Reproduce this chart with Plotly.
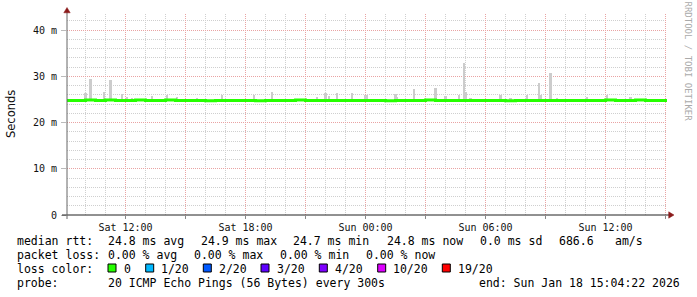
import plotly.graph_objects as go

# ---------------- data ----------------
x_start = "2026-01-17 09:04:22"
x_end = "2026-01-18 15:04:22"

# median RTT (ms), 30-minute steps
median_times = [
    "2026-01-17 09:00", "2026-01-17 09:30", "2026-01-17 10:00", "2026-01-17 10:30",
    "2026-01-17 11:00", "2026-01-17 11:30", "2026-01-17 12:00", "2026-01-17 12:30",
    "2026-01-17 13:00", "2026-01-17 13:30", "2026-01-17 14:00", "2026-01-17 14:30",
    "2026-01-17 15:00", "2026-01-17 15:30", "2026-01-17 16:00", "2026-01-17 16:30",
    "2026-01-17 17:00", "2026-01-17 17:30", "2026-01-17 18:00", "2026-01-17 18:30",
    "2026-01-17 19:00", "2026-01-17 19:30", "2026-01-17 20:00", "2026-01-17 20:30",
    "2026-01-17 21:00", "2026-01-17 21:30", "2026-01-17 22:00", "2026-01-17 22:30",
    "2026-01-17 23:00", "2026-01-17 23:30", "2026-01-18 00:00", "2026-01-18 00:30",
    "2026-01-18 01:00", "2026-01-18 01:30", "2026-01-18 02:00", "2026-01-18 02:30",
    "2026-01-18 03:00", "2026-01-18 03:30", "2026-01-18 04:00", "2026-01-18 04:30",
    "2026-01-18 05:00", "2026-01-18 05:30", "2026-01-18 06:00", "2026-01-18 06:30",
    "2026-01-18 07:00", "2026-01-18 07:30", "2026-01-18 08:00", "2026-01-18 08:30",
    "2026-01-18 09:00", "2026-01-18 09:30", "2026-01-18 10:00", "2026-01-18 10:30",
    "2026-01-18 11:00", "2026-01-18 11:30", "2026-01-18 12:00", "2026-01-18 12:30",
    "2026-01-18 13:00", "2026-01-18 13:30", "2026-01-18 14:00", "2026-01-18 14:30",
    "2026-01-18 15:00", "2026-01-18 15:05",
]
median_ms = [
    24.8, 24.8, 24.9, 24.8, 24.9, 24.8, 24.8, 24.9, 24.8, 24.8,
    24.9, 24.8, 24.8, 24.8, 24.7, 24.8, 24.8, 24.8, 24.8, 24.7,
    24.8, 24.8, 24.8, 24.9, 24.8, 24.8, 24.8, 24.8, 24.8, 24.8,
    24.8, 24.8, 24.7, 24.8, 24.8, 24.8, 24.9, 24.8, 24.8, 24.8,
    24.8, 24.8, 24.8, 24.8, 24.7, 24.8, 24.8, 24.8, 24.8, 24.8,
    24.8, 24.8, 24.8, 24.8, 24.9, 24.8, 24.8, 24.9, 24.8, 24.8,
    24.8, 24.8,
]

# smoke: individual ping spread (ms), lowest and highest ping per step
smoke_times = [
    "2026-01-17 10:00", "2026-01-17 10:15", "2026-01-17 10:55", "2026-01-17 11:15",
    "2026-01-17 11:50", "2026-01-17 12:05", "2026-01-17 12:20", "2026-01-17 13:20",
    "2026-01-17 14:05", "2026-01-17 14:35", "2026-01-17 15:35", "2026-01-17 16:50",
    "2026-01-17 18:25", "2026-01-17 19:20", "2026-01-17 21:35", "2026-01-17 22:00",
    "2026-01-17 22:10", "2026-01-17 22:35", "2026-01-17 23:20", "2026-01-18 00:00",
    "2026-01-18 00:05", "2026-01-18 01:30", "2026-01-18 01:35", "2026-01-18 02:25",
    "2026-01-18 03:30", "2026-01-18 04:00", "2026-01-18 04:40", "2026-01-18 04:55",
    "2026-01-18 05:00", "2026-01-18 05:15", "2026-01-18 06:45", "2026-01-18 07:15",
    "2026-01-18 08:05", "2026-01-18 08:40", "2026-01-18 08:45", "2026-01-18 09:15",
    "2026-01-18 09:35", "2026-01-18 11:05", "2026-01-18 12:05", "2026-01-18 13:15",
]
smoke_low_ms = [
    24.6, 24.6, 24.6, 24.6, 24.6, 24.6, 24.6, 24.6, 24.6, 24.6,
    24.6, 24.6, 24.6, 24.6, 24.6, 24.6, 24.6, 24.6, 24.6, 24.6,
    24.6, 24.6, 24.6, 24.6, 24.6, 24.6, 24.6, 24.5, 24.6, 24.6,
    24.6, 24.6, 24.6, 24.6, 24.6, 24.6, 24.6, 24.6, 24.6, 24.6,
]
smoke_high_ms = [
    26.3, 29.4, 26.7, 29.2, 26.1, 25.5, 25.4, 25.7, 25.9, 25.5,
    25.4, 25.9, 25.9, 26.6, 25.5, 26.3, 25.8, 26.4, 26.3, 25.9,
    25.9, 26.1, 25.6, 27.2, 27.4, 25.8, 25.9, 32.8, 26.6, 25.4,
    25.9, 25.4, 25.9, 28.5, 26.0, 30.8, 25.4, 25.5, 25.9, 25.5,
]

y_tick_vals = [0, 10, 20, 30, 40]
y_tick_text = ["0", "10 m", "20 m", "30 m", "40 m"]

x_tick_vals = [
    "2026-01-17 12:00", "2026-01-17 15:00", "2026-01-17 18:00", "2026-01-17 21:00",
    "2026-01-18 00:00", "2026-01-18 03:00", "2026-01-18 06:00", "2026-01-18 09:00",
    "2026-01-18 12:00", "2026-01-18 15:00",
]
x_tick_text = ["Sat 12:00", "", "Sat 18:00", "", "Sun 00:00", "", "Sun 06:00", "",
               "Sun 12:00", ""]

loss_labels = ["0", "1/20", "2/20", "3/20", "4/20", "10/20", "19/20"]
loss_colors = ["#26ff00", "#00b8ff", "#0059ff", "#5e00ff", "#7e00ff", "#dd00ff", "#ff0000"]

rtt_stats = ["24.8 ms avg", "24.9 ms max", "24.7 ms min", "24.8 ms now", "0.0 ms sd",
             "686.6", "am/s"]
loss_stats = ["0.00 % avg", "0.00 % max", "0.00 % min", "0.00 % now"]
probe_text = "20 ICMP Echo Pings (56 Bytes) every 300s"
end_text = "end: Sun Jan 18 15:04:22 2026"

# ---------------- layout geometry (pixels) ----------------
W, H = 697, 297
PL, PR, PT, PB = 67, 667, 14, 215   # plot area in pixels
Y_TOP = 43.5


def px(x):
    return (x - PL) / (PR - PL)


def py(y):
    return (PB - y) / (PB - PT)


fig = go.Figure()

smoke_height = [h - l for h, l in zip(smoke_high_ms, smoke_low_ms)]
fig.add_trace(go.Bar(
    x=smoke_times, y=smoke_height, base=smoke_low_ms,
    width=400000, marker=dict(color="#cccccc", line=dict(width=0)),
    hoverinfo="skip", showlegend=False,
))
fig.add_trace(go.Scatter(
    x=median_times, y=median_ms, mode="lines",
    line=dict(color="#26ff00", width=3, shape="hv"),
    hoverinfo="skip", showlegend=False,
))

mono = "DejaVu Sans Mono"
grid_minor = "#cfcfcf"
grid_major = "#e9a3a3"

fig.update_layout(
    width=W, height=H,
    margin=dict(l=PL, r=W - PR, t=PT, b=H - PB),
    paper_bgcolor="white", plot_bgcolor="white",
    bargap=0, showlegend=False,
    xaxis=dict(
        type="date", range=[x_start, x_end],
        tickmode="array", tickvals=x_tick_vals, ticktext=x_tick_text,
        showgrid=True, gridcolor=grid_major, griddash="1px,1px", gridwidth=1,
        ticks="outside", ticklen=3, tickcolor="#888",
        tickfont=dict(family=mono, size=10, color="#111"),
        minor=dict(dtick=3600000, tick0="2026-01-17 00:00", showgrid=True,
                   gridcolor=grid_minor, griddash="1px,1px", gridwidth=1),
        showline=False, zeroline=False, fixedrange=True,
    ),
    yaxis=dict(
        range=[0, Y_TOP],
        tickmode="array", tickvals=y_tick_vals, ticktext=y_tick_text,
        showgrid=True, gridcolor=grid_major, griddash="1px,1px", gridwidth=1,
        ticks="outside", ticklen=5, tickcolor="#bbb",
        tickfont=dict(family=mono, size=10, color="#111"),
        ticklabelstandoff=2,
        minor=dict(dtick=2, showgrid=True, gridcolor=grid_minor,
                   griddash="1px,1px", gridwidth=1),
        showline=False, zeroline=False, fixedrange=True,
    ),
)

shapes = []
# axis lines
shapes.append(dict(type="line", xref="paper", yref="paper",
                   x0=px(62), x1=px(669), y0=py(215), y1=py(215),
                   line=dict(color="#222", width=1)))
shapes.append(dict(type="line", xref="paper", yref="paper",
                   x0=px(67), x1=px(67), y0=py(219), y1=py(11),
                   line=dict(color="#666", width=1)))
# arrows
def tri(pts, color):
    d = "M " + " L ".join(f"{px(a)},{py(b)}" for a, b in pts) + " Z"
    return dict(type="path", xref="paper", yref="paper", path=d,
                fillcolor=color, line=dict(color=color, width=0.5))

shapes.append(tri([(67, 7.5), (63.8, 12.8), (70.2, 12.8)], "#8b1a1a"))
shapes.append(tri([(674, 215), (668.7, 211.8), (668.7, 218.2)], "#8b1a1a"))

annotations = []


def text(x, y, s, size=11.5, color="#000", family=mono, **kw):
    annotations.append(dict(xref="paper", yref="paper", x=px(x), y=py(y),
                            text=s, showarrow=False, xanchor=kw.pop("xanchor", "left"),
                            yanchor=kw.pop("yanchor", "middle"), borderpad=0,
                            font=dict(family=family, size=size, color=color), **kw))


# axis title and watermark
text(11, 114, "Seconds", size=11.5, family="DejaVu Sans", color="#111",
     xanchor="center", textangle=-90)
text(687.5, 61, "RRDTOOL / TOBI OETIKER", size=9, color="#aaaaaa",
     xanchor="center", textangle=90)

# legend rows
row_y = [241, 255, 268.5, 283]
text(16, row_y[0], "median rtt:")
for xx, s in zip([107.3, 200, 292.3, 386, 479.3, 558.3, 614], rtt_stats):
    text(xx, row_y[0], s)
text(16, row_y[1], "packet loss:")
for xx, s in zip([107.3, 193.3, 279.3, 365.3], loss_stats):
    text(xx, row_y[1], s)
text(16, row_y[2], "loss color:")
sq_x = [108, 145.7, 203.3, 261, 319.3, 377.7, 442.3]
lab_x = [123.3, 160, 218.3, 276, 334.3, 392.3, 456.7]
for sx, lx, c, lab in zip(sq_x, lab_x, loss_colors, loss_labels):
    shapes.append(dict(type="rect", xref="paper", yref="paper",
                       x0=px(sx), x1=px(sx + 8), y0=py(272), y1=py(264),
                       fillcolor=c, line=dict(color="#000", width=1)))
    text(lx, row_y[2], lab)
text(16, row_y[3], "probe:")
text(107.3, row_y[3], probe_text)
text(478.3, row_y[3], end_text)

fig.update_layout(shapes=shapes, annotations=annotations)

fig.write_html("out.html", config={"displayModeBar": False, "staticPlot": True})
